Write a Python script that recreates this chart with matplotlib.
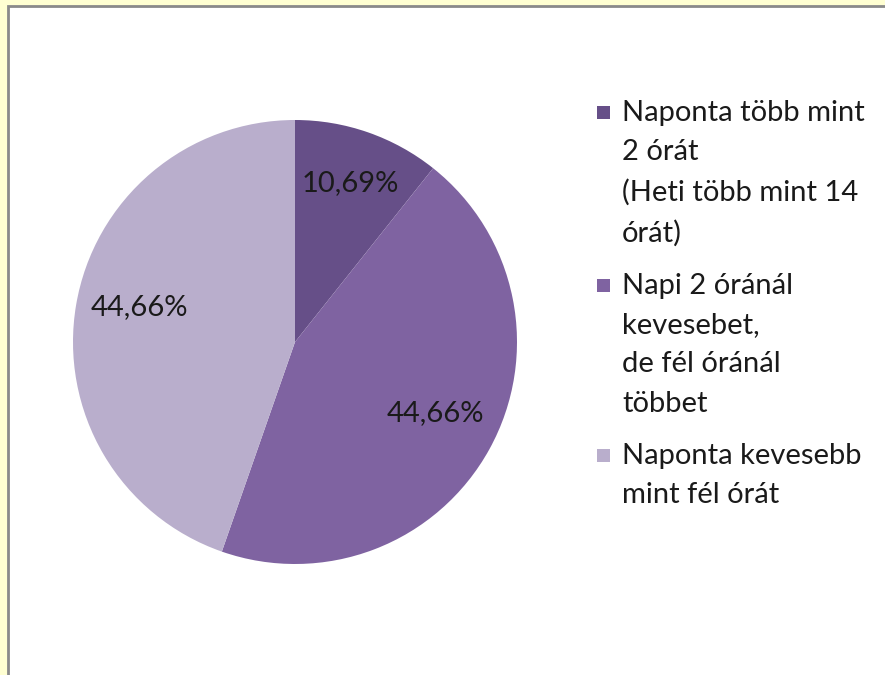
import matplotlib.pyplot as plt
from matplotlib.patches import Rectangle
import numpy as np

labels = ["Naponta több mint\n2 órát\n(Heti több mint 14\nórát)",
          "Napi 2 óránál\nkevesebet,\nde fél óránál\ntöbbet",
          "Naponta kevesebb\nmint fél órát"]
values = [10.69, 44.66, 44.66]
pct_text = ["10,69%", "44,66%", "44,66%"]
colors = ["#664f88", "#7f63a1", "#b9aecc"]

plt.rcParams['font.family'] = ['Lato', 'DejaVu Sans']

fig = plt.figure(figsize=(8.85, 6.75), dpi=100)
fig.patch.set_facecolor("#ffffd2")

# white chart area with grey frame
fig.add_artist(Rectangle((8 / 885, -0.1), 1.0, (675 - 6) / 675 + 0.1,
                         transform=fig.transFigure, facecolor="white",
                         edgecolor="#8a8a8a", linewidth=2, zorder=-5))

ax = fig.add_axes([73 / 885, (675 - 342 - 222) / 675, 444 / 885, 444 / 675])
ax.set_zorder(2)
wedges, texts = ax.pie(values, colors=colors, startangle=90, counterclock=False,
                       radius=1, wedgeprops=dict(linewidth=0))
ax.set_xlim(-1, 1)
ax.set_ylim(-1, 1)
ax.set_aspect("equal")
ax.axis("off")

# label placement: (radius, angle tweak in degrees)
for w, t, (r, da) in zip(wedges, pct_text, [(0.76, 0), (0.71, 2), (0.72, -3)]):
    mid = np.deg2rad((w.theta1 + w.theta2) / 2 + da)
    ax.text(r * np.cos(mid), r * np.sin(mid), t, ha="center", va="center",
            fontsize=21, color="#1a1a1a")

# legend
ys = [112, 285, 455]
for lab, col, y in zip(labels, colors, ys):
    fig.add_artist(Rectangle((597 / 885, 1 - (y + 7) / 675), 13 / 885, 13 / 675,
                             transform=fig.transFigure, facecolor=col, edgecolor="none"))
    fig.text(622 / 885, 1 - (y - 12) / 675, lab, ha="left", va="top",
             fontsize=21, linespacing=1.63, color="#1a1a1a")

fig.savefig("out.png", dpi=100, facecolor=fig.get_facecolor())
